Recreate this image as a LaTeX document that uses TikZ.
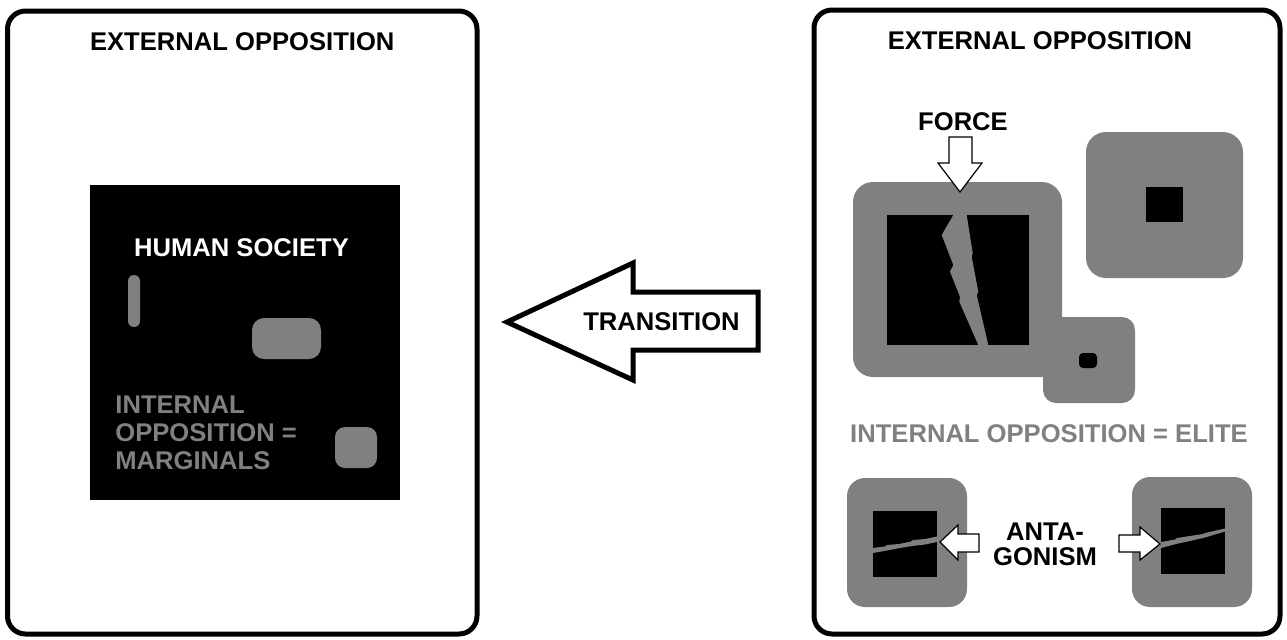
\documentclass[tikz,border=0pt]{standalone}
\usepackage{fontspec}
\setmainfont{Liberation Sans}
\usetikzlibrary{positioning}

\definecolor{cellgray}{RGB}{128,128,128}

\tikzset{
  frame/.style={draw, line width=2.5pt, rounded corners=9pt, inner sep=0pt, outer sep=0pt},
  caption/.style={font=\bfseries\fontsize{12.8}{14}\selectfont, inner sep=0pt},
  cell/.style={fill=cellgray, rounded corners=#1, inner sep=0pt, outer sep=0pt},
  cell/.default=10pt,
  core/.style={fill=black, inner sep=0pt, outer sep=0pt},
  block arrow/.style={draw, fill=white, line width=0.6pt, line join=miter},
  crack/.style={fill=cellgray}
}

\begin{document}
\begin{tikzpicture}[x=0.5pt, y=-0.5pt]
  \useasboundingbox (0,0) rectangle (1287,639);

  % left panel
  \node[frame, minimum width=234.75pt, minimum height=311.5pt] (left frame) at (242.25,322.5) {};
  \node[caption, below=10.5pt of left frame.north] (left title) {EXTERNAL OPPOSITION};
  \node[core, minimum width=155pt, minimum height=157.5pt] (society) at (245,342.5) {};
  \node[caption, text=white] (society label) at (241.5,248) {HUMAN SOCIETY};
  \node[cell=3pt, minimum width=6pt, minimum height=26pt] (pill) at (134,301) {};
  \node[cell=6pt, minimum width=34.5pt, minimum height=20.5pt] (group) at (286.5,338.5) {};
  \node[cell=5pt, minimum width=21pt, minimum height=20.5pt] (margin) at (356,447.5) {};
  \node[caption, text=cellgray, align=left, anchor=north west] (marginals) at (115,395)
    {INTERNAL\\OPPOSITION =\\MARGINALS};

  % transition
  \node[caption] (transition) at (661.5,322) {TRANSITION};
  \draw[line width=2.5pt, line join=miter] (507,322) -- (633,263) -- (633,292) -- (758,292)
    -- (758,350) -- (633,350) -- (633,380) -- cycle;

  % right panel
  \node[frame, minimum width=233pt, minimum height=312pt] (right frame) at (1047,322) {};
  \node[caption, below=10.5pt of right frame.north, xshift=-3.5pt] (right title) {EXTERNAL OPPOSITION};
  \node[caption] (force) at (963,122) {FORCE};
  \node[cell=6.5pt, minimum width=46pt, minimum height=43pt] (small cell) at (1089,360) {};
  \node[core, rounded corners=2pt, minimum width=9pt, minimum height=7.5pt] (small core) at (1088,360.5) {};
  \node[cell, minimum width=104.5pt, minimum height=97.5pt] (big cell) at (957.5,279.5) {};
  \node[core, minimum width=71pt, minimum height=65pt] (big core) at (958,280) {};
  \fill[crack] (953.3,215) -- (941.7,235) -- (953.3,265) -- (950,271.7) -- (960,296.7)
    -- (959.3,301.7) -- (978.3,345) -- (988.3,345) -- (976.7,295) -- (978.3,291.7)
    -- (971.7,256.7) -- (972.7,253.3) -- (966.7,215) -- cycle;
  \draw[block arrow] (949,137) -- (972,137) -- (972,163) -- (982,163) -- (960,192)
    -- (938,163) -- (949,163) -- cycle;
  \node[cell, minimum width=78.5pt, minimum height=73pt] (top cell) at (1164.5,205) {};
  \node[core, minimum width=18.5pt, minimum height=17.5pt] (top core) at (1164.5,204.5) {};

  \node[caption, text=cellgray] (elite) at (1049,434) {INTERNAL OPPOSITION = ELITE};

  % rivals
  \node[cell=9pt, minimum width=60pt, minimum height=64.5pt] (left rival) at (907,542.5) {};
  \node[core, minimum width=32pt, minimum height=33pt] (left rival core) at (905,544) {};
  \fill[crack] (873,548) -- (885,546.5) -- (887,545) -- (899,544) -- (911,541.5) -- (913,540)
    -- (925,539) -- (937,536.5) -- (937,542) -- (925,544.5) -- (912,546) -- (900,548)
    -- (887,550.5) -- (873,553) -- cycle;
  \node[cell=9pt, minimum width=60pt, minimum height=65pt] (right rival) at (1192,542) {};
  \node[core, minimum width=32pt, minimum height=33pt] (right rival core) at (1193,541) {};
  \fill[crack] (1161,542) -- (1175,539.5) -- (1177,538) -- (1190,536) -- (1203,534)
    -- (1205,533) -- (1225,528.5) -- (1225,531.5) -- (1205,537.5) -- (1190,541)
    -- (1176,544) -- (1161,548) -- cycle;

  \node[caption, align=center, font=\bfseries\fontsize{12.8}{12.5}\selectfont] (antagonism) at (1045,544)
    {ANTA-\\GONISM};
  \draw[block arrow] (979,534) -- (958,534) -- (958,525) -- (940,542) -- (958,560)
    -- (958,552) -- (979,552) -- cycle;
  \draw[block arrow] (1119,535) -- (1140,535) -- (1140,527) -- (1160,544) -- (1140,560)
    -- (1140,552) -- (1119,552) -- cycle;
\end{tikzpicture}
\end{document}
